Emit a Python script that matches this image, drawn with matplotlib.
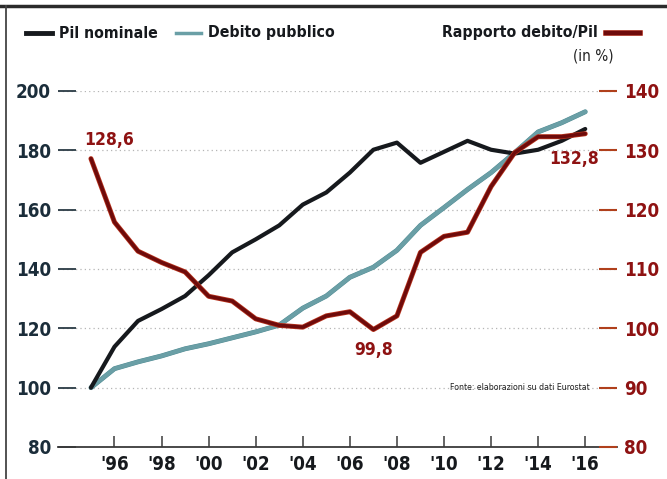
import matplotlib
matplotlib.use("Agg")
import matplotlib.pyplot as plt
from matplotlib.lines import Line2D
from matplotlib import font_manager as fm
import matplotlib.patheffects as pe

years = list(range(1995, 2017))
pil_nominale = [100, 113.8, 122.5, 126.5, 130.9, 137.9, 145.6, 150.0, 154.7, 161.7, 165.8,
                172.5, 180.2, 182.6, 175.8, 179.5, 183.2, 180.2, 178.9, 180.2, 183.2, 187.2]
debito_pubblico = [100, 106.4, 108.7, 110.7, 113.1, 114.8, 116.8, 118.8, 121.1, 126.8, 130.9,
                   137.2, 140.6, 146.3, 154.7, 160.7, 166.8, 172.5, 179.2, 186.2, 189.3, 193.0]
rapporto = [128.6, 117.9, 113.0, 111.1, 109.5, 105.4, 104.6, 101.6, 100.5, 100.2, 102.1,
            102.8, 99.8, 102.1, 112.8, 115.5, 116.2, 123.9, 129.6, 132.3, 132.3, 132.8]

left_ticks = [80, 100, 120, 140, 160, 180, 200]
right_ticks = [80, 90, 100, 110, 120, 130, 140]
x_ticks = list(range(1996, 2017, 2))
x_labels = ["'96", "'98", "'00", "'02", "'04", "'06", "'08", "'10", "'12", "'14", "'16"]

annotations = [(1995, 128.6, "128,6"), (2007, 99.8, "99,8"), (2016, 132.8, "132,8")]

plt.rcParams['font.family'] = ['DejaVu Sans']
plt.rcParams['font.stretch'] = 'condensed'

cond_bold = None
cond_reg = None
for f in fm.fontManager.ttflist:
    n = f.fname.lower()
    if 'liberationsansnarrow-bold.' in n:
        cond_bold = f.fname
    if 'liberationsansnarrow-regular.' in n:
        cond_reg = f.fname
if cond_bold is None:
    for f in fm.fontManager.ttflist:
        n = f.fname.lower()
        if 'dejavusanscondensed-bold.' in n:
            cond_bold = f.fname
        if 'dejavusanscondensed.' in n:
            cond_reg = f.fname

def FP(size, bold=True):
    path = cond_bold if bold else cond_reg
    if path:
        return fm.FontProperties(fname=path, size=size)
    return fm.FontProperties(family='DejaVu Sans', weight='bold' if bold else 'normal',
                             stretch='condensed', size=size)

BLACK = '#16191d'
TEAL = '#6a9fa6'
RED = '#6e0b0b'
RED_EDGE = '#b8321c'
LABEL_DARK = '#1b2d3a'
RED_LABEL = '#8e1212'

fig = plt.figure(figsize=(6.67, 4.79), dpi=100)
ax = fig.add_axes([58/667, 1-447/479, (617-58)/667, (447-91)/479])
ax2 = ax.twinx()

ax.set_xlim(1993.6, 2017.35)
ax.set_ylim(80, 200)
ax2.set_ylim(80, 140)

ax.set_yticks(left_ticks)
ax.yaxis.grid(True, color='#b5b5b5', linestyle=(0, (1, 2.5)), linewidth=0.9)
ax.set_axisbelow(True)

ax.plot(years, debito_pubblico, color=TEAL, linewidth=3.0, solid_capstyle='round',
        path_effects=[pe.Stroke(linewidth=3.5, foreground='#4f8a92'), pe.Normal()], zorder=3)
ax.plot(years, pil_nominale, color=BLACK, linewidth=3.0, solid_capstyle='round', zorder=4)
ax2.plot(years, rapporto, color=RED, linewidth=2.5, solid_capstyle='round',
         path_effects=[pe.Stroke(linewidth=3.6, foreground=RED_EDGE), pe.Normal()], zorder=5)

for s in ['top', 'left', 'right']:
    ax.spines[s].set_visible(False)
    ax2.spines[s].set_visible(False)
ax2.spines['bottom'].set_visible(False)
ax.spines['bottom'].set_color('#3a3a3a')
ax.spines['bottom'].set_linewidth(1.3)

ax.set_xticks(x_ticks)
ax.set_xticklabels(x_labels)
ax.tick_params(axis='x', direction='in', length=8, width=1.1, color='#3a3a3a', pad=6,
               labelcolor=BLACK)
for t in ax.get_xticklabels():
    t.set_fontproperties(FP(13.5))

ax.set_yticklabels([str(v) for v in left_ticks])
ax.tick_params(axis='y', direction='in', length=13, width=1.3, color='#2a3a44', pad=5,
               labelcolor=LABEL_DARK)
for t in ax.get_yticklabels():
    t.set_fontproperties(FP(13.5))

ax2.set_yticks(right_ticks)
ax2.set_yticklabels([str(v) for v in right_ticks])
ax2.tick_params(axis='y', direction='in', length=13, width=1.5, color='#b0401c', pad=5,
                labelcolor=RED_LABEL)
for t in ax2.get_yticklabels():
    t.set_fontproperties(FP(13.5))

offsets = {"128,6": (-5, 7, 'left', 'bottom'), "99,8": (0, -8, 'center', 'top'),
           "132,8": (-8, -12, 'center', 'top')}
for x, y, txt in annotations:
    dx, dy, ha, va = offsets[txt]
    ax2.annotate(txt, (x, y), xytext=(dx, dy), textcoords='offset points', ha=ha, va=va,
                 fontproperties=FP(12.5), color=RED_LABEL)

ax.text(0.951, 0.168, "Fonte: elaborazioni su dati Eurostat", transform=ax.transAxes,
        ha='right', va='center', fontproperties=FP(6.3, bold=False), color='#222222')

def fx(px):
    return px / 667
def fy(py):
    return 1 - py / 479

fig.add_artist(Line2D([fx(26), fx(52)], [fy(33), fy(33)], color=BLACK, linewidth=3.5))
fig.text(fx(59), fy(33), "Pil nominale", ha='left', va='center', fontproperties=FP(11.3),
         color=BLACK)
fig.add_artist(Line2D([fx(176), fx(201)], [fy(33), fy(33)], color=TEAL, linewidth=2.5))
fig.text(fx(208), fy(33), "Debito pubblico", ha='left', va='center', fontproperties=FP(11.3),
         color=BLACK)
fig.text(fx(598), fy(33), "Rapporto debito/Pil", ha='right', va='center',
         fontproperties=FP(11.3), color=BLACK)
fig.add_artist(Line2D([fx(606), fx(640)], [fy(33), fy(33)], color=RED, linewidth=3.2,
                      path_effects=[pe.Stroke(linewidth=4.0, foreground=RED_EDGE), pe.Normal()]))
fig.text(fx(593), fy(56), "(in %)", ha='center', va='center', fontproperties=FP(11, bold=False),
         color='#222222')

fig.add_artist(Line2D([0, 1], [fy(6), fy(6)], color='#2b2b2b', linewidth=2.5))
fig.add_artist(Line2D([fx(6), fx(6)], [fy(6), 0], color='#444444', linewidth=1.3))

fig.savefig("out.png", dpi=100, facecolor='white')
